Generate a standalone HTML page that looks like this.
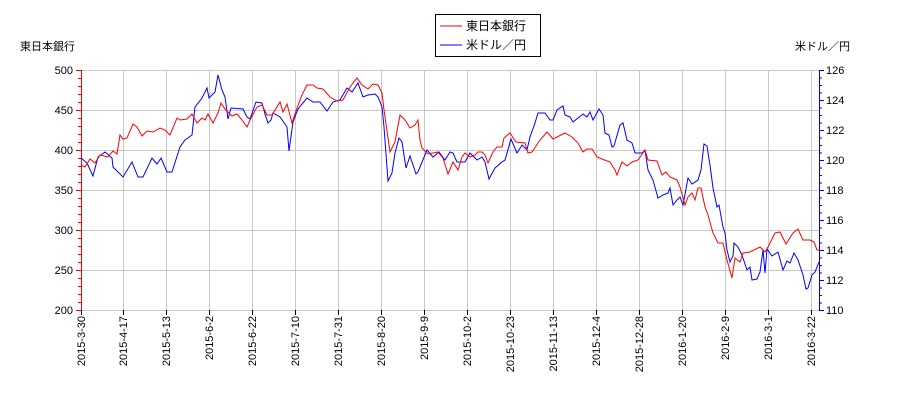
<!DOCTYPE html>
<html><head><meta charset="utf-8"><style>
html,body{margin:0;padding:0;background:#fff;}
svg text{font-family:"Liberation Sans","Noto Sans CJK JP",sans-serif;font-size:11px;fill:#000;}
</style></head><body>
<svg width="900" height="400" xmlns="http://www.w3.org/2000/svg">
<rect x="0" y="0" width="900" height="400" fill="#fff"/>
<g stroke="#c8c8c8" stroke-width="1">
<line x1="81" y1="70.5" x2="819" y2="70.5"/><line x1="81" y1="110.5" x2="819" y2="110.5"/><line x1="81" y1="150.5" x2="819" y2="150.5"/><line x1="81" y1="190.5" x2="819" y2="190.5"/><line x1="81" y1="230.5" x2="819" y2="230.5"/><line x1="81" y1="270.5" x2="819" y2="270.5"/><line x1="81" y1="310.5" x2="819" y2="310.5"/>
<line x1="123.5" y1="70" x2="123.5" y2="310"/><line x1="166.5" y1="70" x2="166.5" y2="310"/><line x1="209.5" y1="70" x2="209.5" y2="310"/><line x1="252.5" y1="70" x2="252.5" y2="310"/><line x1="295.5" y1="70" x2="295.5" y2="310"/><line x1="338.5" y1="70" x2="338.5" y2="310"/><line x1="381.5" y1="70" x2="381.5" y2="310"/><line x1="424.5" y1="70" x2="424.5" y2="310"/><line x1="467.5" y1="70" x2="467.5" y2="310"/><line x1="510.5" y1="70" x2="510.5" y2="310"/><line x1="553.5" y1="70" x2="553.5" y2="310"/><line x1="596.5" y1="70" x2="596.5" y2="310"/><line x1="639.5" y1="70" x2="639.5" y2="310"/><line x1="682.5" y1="70" x2="682.5" y2="310"/><line x1="725.5" y1="70" x2="725.5" y2="310"/><line x1="768.5" y1="70" x2="768.5" y2="310"/><line x1="811.5" y1="70" x2="811.5" y2="310"/>
</g>
<!-- left axis -->
<g stroke="#f00" stroke-width="1">
<line x1="81.5" y1="70" x2="81.5" y2="310"/>
<path d="M76 70.5h5M76 110.5h5M76 150.5h5M76 190.5h5M76 230.5h5M76 270.5h5M76 310.5h5M78 78.5h3M78 86.5h3M78 94.5h3M78 102.5h3M78 118.5h3M78 126.5h3M78 134.5h3M78 142.5h3M78 158.5h3M78 166.5h3M78 174.5h3M78 182.5h3M78 198.5h3M78 206.5h3M78 214.5h3M78 222.5h3M78 238.5h3M78 246.5h3M78 254.5h3M78 262.5h3M78 278.5h3M78 286.5h3M78 294.5h3M78 302.5h3"/>
</g>
<!-- right axis -->
<g stroke="#00f" stroke-width="1">
<line x1="819.5" y1="70" x2="819.5" y2="310"/>
<path d="M819 70.5h5M819 100.5h5M819 130.5h5M819 160.5h5M819 190.5h5M819 220.5h5M819 250.5h5M819 280.5h5M819 310.5h5M819 78h3M819 85.5h3M819 93h3M819 108h3M819 115.5h3M819 123h3M819 138h3M819 145.5h3M819 153h3M819 168h3M819 175.5h3M819 183h3M819 198h3M819 205.5h3M819 213h3M819 228h3M819 235.5h3M819 243h3M819 258h3M819 265.5h3M819 273h3M819 288h3M819 295.5h3M819 303h3"/>
</g>
<!-- bottom ticks -->
<g stroke="#000"><path d="M81.5 310v5M123.5 310v5M166.5 310v5M209.5 310v5M252.5 310v5M295.5 310v5M338.5 310v5M381.5 310v5M424.5 310v5M467.5 310v5M510.5 310v5M553.5 310v5M596.5 310v5M639.5 310v5M682.5 310v5M725.5 310v5M768.5 310v5M811.5 310v5"/></g>
<g text-anchor="end">
<text x="73" y="74">500</text><text x="73" y="114">450</text><text x="73" y="154">400</text><text x="73" y="194">350</text><text x="73" y="234">300</text><text x="73" y="274">250</text><text x="73" y="314">200</text>
</g>
<g>
<text x="826" y="74">126</text><text x="826" y="104">124</text><text x="826" y="134">122</text><text x="826" y="164">120</text><text x="826" y="194">118</text><text x="826" y="224">116</text><text x="826" y="254">114</text><text x="826" y="284">112</text><text x="826" y="314">110</text>
</g>
<g text-anchor="end">
<text transform="translate(85,316) rotate(-90)">2015-3-30</text>
<text transform="translate(127,316) rotate(-90)">2015-4-17</text>
<text transform="translate(170,316) rotate(-90)">2015-5-13</text>
<text transform="translate(213,316) rotate(-90)">2015-6-2</text>
<text transform="translate(256,316) rotate(-90)">2015-6-22</text>
<text transform="translate(299,316) rotate(-90)">2015-7-10</text>
<text transform="translate(342,316) rotate(-90)">2015-7-31</text>
<text transform="translate(385,316) rotate(-90)">2015-8-20</text>
<text transform="translate(428,316) rotate(-90)">2015-9-9</text>
<text transform="translate(471,316) rotate(-90)">2015-10-2</text>
<text transform="translate(514,316) rotate(-90)">2015-10-23</text>
<text transform="translate(557,316) rotate(-90)">2015-11-13</text>
<text transform="translate(600,316) rotate(-90)">2015-12-4</text>
<text transform="translate(643,316) rotate(-90)">2015-12-28</text>
<text transform="translate(686,316) rotate(-90)">2016-1-20</text>
<text transform="translate(729,316) rotate(-90)">2016-2-9</text>
<text transform="translate(772,316) rotate(-90)">2016-3-1</text>
<text transform="translate(815,316) rotate(-90)">2016-3-22</text>
</g>
<text x="20" y="50">東日本銀行</text>
<text x="850" y="50" text-anchor="end">米ドル／円</text>
<!-- legend -->
<rect x="435.5" y="14.5" width="105" height="42" fill="#fff" stroke="#000"/>
<line x1="440" y1="26" x2="462" y2="26" stroke="#f00"/>
<line x1="440" y1="45" x2="462" y2="45" stroke="#00f"/>
<text x="466" y="30" style="font-size:12px">東日本銀行</text>
<text x="466" y="49" style="font-size:12px">米ドル／円</text>
<!-- blue series -->
<polyline fill="none" stroke="#00f" stroke-width="1" points="81,158 87,163 93,176 98,157 105,152 112,158 113,167 123,177 132,162 138,177 143,177 152,158 157,164 161,158 167,172 172,172 180,147 185,140 192,135 195,107 202,98 207,88 209,98 215,92 218,75 222,90 225,97 228,119 231,108 243,109 247,117 250,119 256,102 262,103 265,114 268,123 271,120 273,113 280,117 287,127 289,151 293,122 298,109 307,98 313,102 320,102 327,111 333,102 340,100 347,88 352,92 358,83 363,97 368,95 375,94 378,97 382,107 384,127 388,181 392,173 395,153 399,138 402,142 406,168 410,156 416,174 418,172 427,150 433,157 439,152 445,160 450,152 453,153 457,162 465,162 470,153 477,160 482,157 485,162 489,179 495,168 502,162 505,160 511,139 517,153 522,145 527,150 530,137 535,123 538,113 545,113 550,120 553,120 557,110 563,106 565,115 570,117 573,122 578,118 583,114 587,117 590,112 593,120 599,109 603,115 605,133 609,135 612,147 614,146 620,125 623,123 627,140 632,143 635,153 642,153 645,150 648,170 653,180 658,198 663,195 668,193 670,188 673,205 677,200 680,197 683,205 688,178 692,184 698,180 701,170 704,144 707,146 710,165 713,188 717,207 719,205 723,227 725,233 727,250 730,262 733,256 734,243 738,247 742,255 747,270 750,267 752,280 757,279 760,272 763,250 765,273 767,249 772,256 778,252 783,270 787,261 790,263 794,253 798,260 803,275 806,289 808,288 812,275 815,272 819,262"/>
<!-- red series -->
<polyline fill="none" stroke="#f00" stroke-width="1" points="81,165 85,167 90,159 95,163 100,155 108,157 113,151 117,154 120,135 123,139 127,138 133,124 137,127 142,136 147,131 153,132 160,128 165,130 170,135 177,118 180,120 187,119 192,114 197,123 202,118 205,120 208,114 213,123 218,113 221,103 225,109 228,112 232,116 237,114 242,120 247,127 251,118 257,107 262,105 267,115 272,115 280,102 283,112 287,104 292,123 297,108 302,95 307,85 313,85 317,88 323,89 330,97 337,101 343,100 350,87 357,78 362,85 368,89 373,84 378,85 382,93 384,110 390,152 395,142 400,115 405,120 410,128 415,125 418,120 420,140 422,148 428,154 438,152 443,158 448,174 453,162 458,170 462,157 465,153 470,157 475,155 478,152 482,152 485,155 488,163 493,152 497,147 502,147 504,138 510,133 516,142 525,143 528,153 532,152 540,140 547,132 553,139 565,133 572,137 578,143 583,152 587,149 592,149 597,157 602,159 610,162 615,170 617,175 622,162 627,166 632,162 638,160 645,150 648,160 657,161 662,175 666,172 670,177 677,180 680,187 685,205 688,197 692,193 695,200 698,188 701,188 705,207 708,215 713,233 718,243 723,243 727,260 732,278 735,258 740,262 743,253 750,252 760,247 765,252 768,247 775,233 780,232 786,244 793,233 798,229 803,240 810,240 814,242 817,250 819,250"/>
</svg>
</body></html>
